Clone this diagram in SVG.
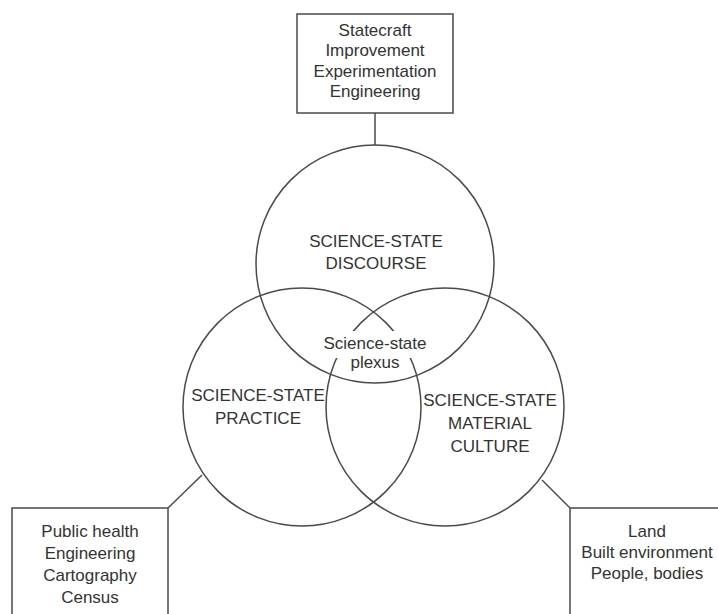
<svg xmlns="http://www.w3.org/2000/svg" width="718" height="614" viewBox="0 0 718 614">
<style>
.ln{fill:none;stroke:#4a4a4a;stroke-width:1.5}
.bx{fill:#fff;stroke:#4a4a4a;stroke-width:1.5}
.t{font-family:"Liberation Sans",Arial,sans-serif;font-size:17px;fill:#333;text-anchor:middle}
</style>
<rect width="718" height="614" fill="#fff"/>
<g id="connectors">
<line class="ln" x1="375" y1="113" x2="375" y2="145"/>
<line class="ln" x1="168" y1="508" x2="202" y2="475"/>
<line class="ln" x1="570" y1="508" x2="542" y2="480"/>
</g>
<g id="discourse">
<circle class="ln" cx="375" cy="264" r="119"/>
</g>
<g id="practice">
<circle class="ln" cx="302" cy="407" r="119"/>
</g>
<g id="material">
<circle class="ln" cx="445" cy="407" r="119"/>
</g>
<g id="discourse-label">
<text class="t" x="376" y="247">SCIENCE-STATE</text>
<text class="t" x="376" y="269">DISCOURSE</text>
</g>
<g id="practice-label">
<text class="t" x="258" y="401">SCIENCE-STATE</text>
<text class="t" x="258" y="424">PRACTICE</text>
</g>
<g id="material-label">
<text class="t" x="490" y="406">SCIENCE-STATE</text>
<text class="t" x="490" y="429">MATERIAL</text>
<text class="t" x="490" y="452">CULTURE</text>
</g>
<g id="plexus">
<rect x="320" y="331" width="110" height="27" fill="#fff"/>
<text class="t" x="375" y="349">Science-state</text>
<text class="t" x="375" y="368">plexus</text>
</g>
<g id="top-box">
<rect class="bx" x="297" y="14" width="156" height="99"/>
<text class="t" x="375" y="36">Statecraft</text>
<text class="t" x="375" y="56">Improvement</text>
<text class="t" x="375" y="77">Experimentation</text>
<text class="t" x="375" y="97">Engineering</text>
</g>
<g id="left-box">
<rect class="bx" x="12" y="508" width="156" height="130"/>
<text class="t" x="90" y="537">Public health</text>
<text class="t" x="90" y="559">Engineering</text>
<text class="t" x="90" y="581">Cartography</text>
<text class="t" x="90" y="603">Census</text>
</g>
<g id="right-box">
<rect class="bx" x="570" y="508" width="170" height="130"/>
<text class="t" x="647" y="537">Land</text>
<text class="t" x="647" y="558">Built environment</text>
<text class="t" x="647" y="579">People, bodies</text>
</g>
</svg>
